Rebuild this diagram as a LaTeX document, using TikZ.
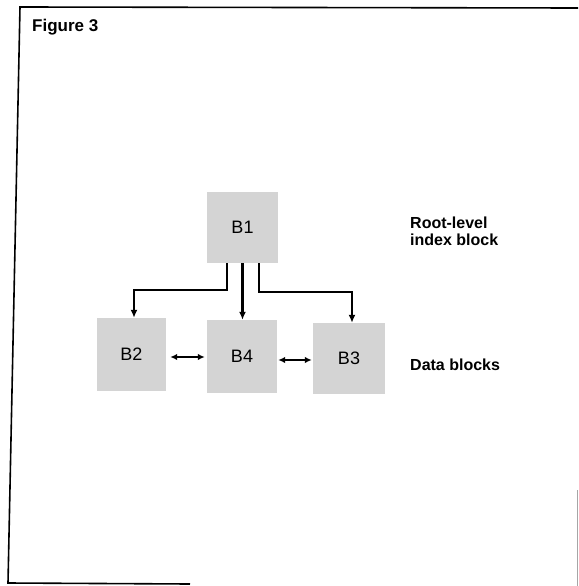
\documentclass[tikz,border=0pt]{standalone}
\usepackage{fontspec}
\setmainfont{Liberation Sans}
\usetikzlibrary{arrows.meta}
\tikzset{
  block/.style={fill=black!17, draw=none, inner sep=0pt, font=\fontsize{18}{20}\selectfont},
  conn/.style={line width=2.2pt, -{Latex[length=8pt,width=7pt]}},
  dconn/.style={line width=2.2pt, {Latex[length=7pt,width=6.5pt]}-{Latex[length=7pt,width=6.5pt]}},
  frame/.style={line width=1.6pt, black},
  lab/.style={font=\bfseries\fontsize{16}{17}\selectfont, inner sep=0pt, align=left},
}
\begin{document}
\begin{tikzpicture}[x=1pt,y=1pt]
\useasboundingbox (0,0) rectangle (578,-586);
% frame
\coordinate (f1) at (578,-8);
\coordinate (f2) at (20,-7);
\coordinate (f3) at (8,-583);
\coordinate (f4) at (190,-584);
\draw[frame] (f1) -- (f2) -- (f3) -- (f4);
\coordinate (g1) at (577,-490);
\coordinate (g2) at (577,-586);
\draw[line width=0.8pt, black!35] (g1) -- (g2);
\node[font=\bfseries\fontsize{17}{20}\selectfont, anchor=base west, inner sep=0pt] (title) at (32,-32) {Figure 3};
% blocks
\node[block, minimum width=71pt, minimum height=71pt] (B1) at (242.5,-227.5) {B1};
\node[block, minimum width=69pt, minimum height=73pt] (B2) at (131.5,-354.5) {B2};
\node[block, minimum width=70pt, minimum height=73pt] (B4) at (242,-356.5) {B4};
\node[block, minimum width=72pt, minimum height=71pt] (B3) at (349,-358.5) {B3};
% connectors
\draw[conn] ([xshift=-15.5pt]B1.south) -- ++(0,-27) -| ([xshift=2.5pt]B2.north);
\draw[conn] (B1.south) -- (B1.south |- B4.north);
\draw[conn] ([xshift=16.5pt]B1.south) -- ++(0,-29) -| ([xshift=3pt]B3.north);
\draw[dconn] ([xshift=4pt,yshift=-2.5pt]B2.east) -- ([xshift=-2pt,yshift=-0.5pt]B4.west);
\draw[dconn] ([xshift=1pt,yshift=-3.5pt]B4.east) -- ([xshift=-1pt,yshift=-1.5pt]B3.west);
% labels
\node[lab, anchor=north west] (root) at (410,-217) {Root-level\\index block};
\node[lab, anchor=base west] (data) at (410,-370) {Data blocks};
\end{tikzpicture}
\end{document}
